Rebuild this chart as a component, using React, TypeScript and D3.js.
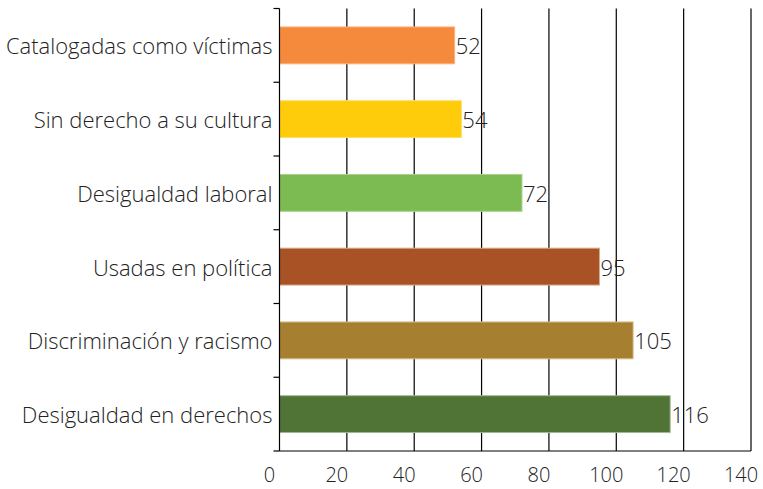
import React from "react";
import * as d3 from "d3";

const categories = [
  "Catalogadas como víctimas",
  "Sin derecho a su cultura",
  "Desigualdad laboral",
  "Usadas en política",
  "Discriminación y racismo",
  "Desigualdad en derechos",
];
const values = [52, 54, 72, 95, 105, 116];
const colors = ["#F68A3C", "#FECC0A", "#7CBB52", "#A85226", "#A67F30", "#4F7435"];
const strokes = ["#F9B07E", "#FEDD6A", "#A8D38C", "#D9A88E", "#D6C08F", "#A3B896"];
const xTicks = [0, 20, 40, 60, 80, 100, 120, 140];

const W = 763;
const H = 489;
const margin = { left: 279.5, right: 12, top: 8.5, bottom: 38 };
const FONT = "'Open Sans', 'Liberation Sans', Arial, sans-serif";

export default function App() {
  const x = d3.scaleLinear().domain([0, 140]).range([margin.left, W - margin.right]);
  const y = d3
    .scaleBand<string>()
    .domain(categories)
    .range([margin.top, H - margin.bottom])
    .paddingInner(0.5)
    .paddingOuter(0.25);
  const step = y.step();
  const bottom = H - margin.bottom;
  const boundaries = d3.range(categories.length + 1).map((i) => margin.top + i * step);

  return (
    <svg
      width={W}
      height={H}
      style={{ position: "absolute", left: 0, top: 0, background: "#fff" }}
      fontFamily={FONT}
      fontWeight={300}
    >
      {xTicks.slice(1).map((t) => (
        <line key={"g" + t} x1={x(t)} x2={x(t)} y1={margin.top} y2={bottom} stroke="#000" strokeWidth={1.2} />
      ))}
      {categories.map((c, i) => (
        <rect
          key={c}
          x={x(0)}
          y={y(c)!}
          width={x(values[i]) - x(0)}
          height={y.bandwidth()}
          fill={colors[i]}
          stroke={strokes[i]}
          strokeWidth={1}
        />
      ))}
      <line x1={x(0)} x2={x(0)} y1={margin.top} y2={bottom} stroke="#000" strokeWidth={1.2} />
      <line x1={x(0)} x2={x(140)} y1={bottom} y2={bottom} stroke="#000" strokeWidth={1.2} />
      {boundaries.map((b, i) => (
        <line key={"t" + i} x1={x(0) - 6} x2={x(0)} y1={b} y2={b} stroke="#000" strokeWidth={1.2} />
      ))}
      {categories.map((c, i) => (
        <text
          key={"l" + c}
          x={x(0) - 7}
          y={y(c)! + y.bandwidth() / 2}
          textAnchor="end"
          dominantBaseline="central"
          fontSize={22}
          fill="#222"
        >
          {c}
        </text>
      ))}
      {categories.map((c, i) => (
        <text
          key={"v" + c}
          x={x(values[i]) + 1}
          y={y(c)! + y.bandwidth() / 2}
          dominantBaseline="central"
          fontSize={22}
          fill="#222"
        >
          {values[i]}
        </text>
      ))}
      {xTicks.map((t) => (
        <text key={"x" + t} x={x(t) - 10} y={482} textAnchor="middle" fontSize={20} fill="#222">
          {t}
        </text>
      ))}
    </svg>
  );
}
